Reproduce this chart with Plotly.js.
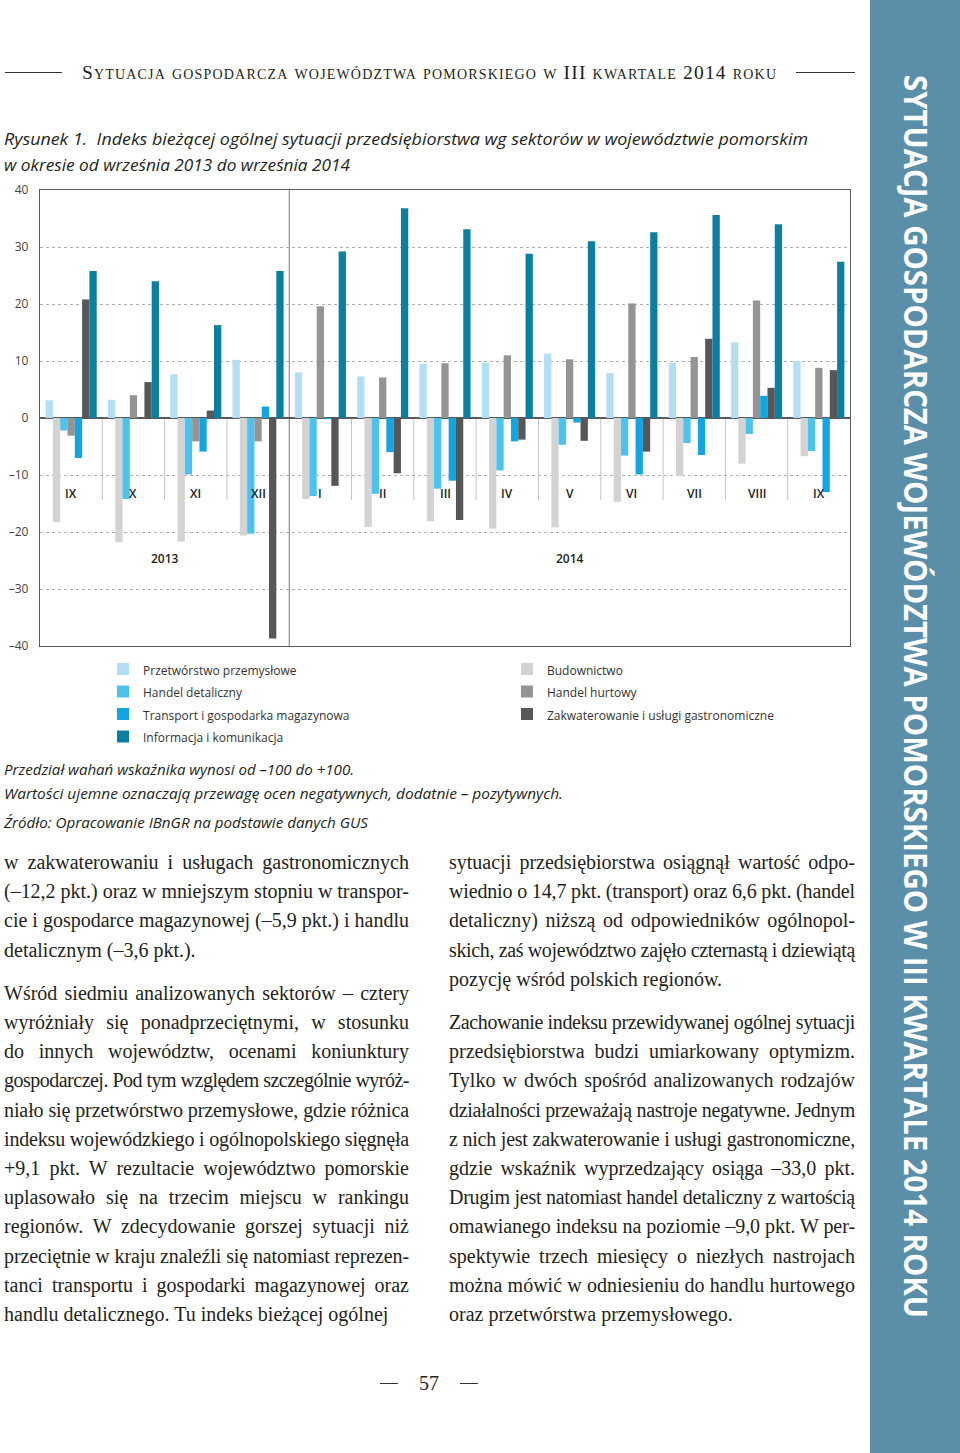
<!DOCTYPE html>
<html>
<head>
<meta charset="utf-8">
<script src="https://cdn.plot.ly/plotly-3.0.1.min.js"></script>
<style>
  html, body { margin:0; padding:0; background:#fff; }
  #page { position:relative; width:960px; height:1453px; background:#fff; overflow:hidden; }
  #chart { position:absolute; left:0; top:0; width:870px; height:800px; }
  .abs { position:absolute; white-space:nowrap; }
  .serif { font-family:"Liberation Serif", serif; color:#231f20; }
  .sans { font-family:"Open Sans", sans-serif; color:#231f20; }
  .body { font-size:20px; line-height:29.2px; }
  .hline { position:absolute; height:0; border-top:1px solid #333; }
</style>
</head>
<body>
<div id="page">
  <div id="chart"></div>
  <div style="position:absolute;left:870px;top:0;width:90px;height:1453px;background:#5b8fa9"></div>
  <span id="side" class="abs" style="font-family:'Open Sans',sans-serif;font-weight:700;font-size:33px;line-height:33px;color:#fff;transform-origin:0 0;left:933px;top:75px;">SYTUACJA GOSPODARCZA WOJEWÓDZTWA POMORSKIEGO W III KWARTALE 2014 ROKU</span>

  <div class="hline" style="left:5px;width:57px;top:72px"></div>
  <div class="hline" style="left:796px;width:59px;top:72px"></div>
  <span id="hdr" class="abs serif" data-w="694" style="left:82px;top:62.7px;font-size:19.5px;line-height:19.5px;font-variant:small-caps;">Sytuacja gospodarcza województwa pomorskiego w III kwartale 2014 roku</span>

  <span class="abs sans fitx" data-w="804" style="left:4px;top:128px;font-size:17px;line-height:22px;font-style:italic;font-weight:500;">Rysunek 1.&nbsp; Indeks bieżącej ogólnej sytuacji przedsiębiorstwa wg sektorów w województwie pomorskim</span>
  <span class="abs sans fitx" data-w="346" style="left:4px;top:154px;font-size:17px;line-height:22px;font-style:italic;font-weight:500;">w okresie od września 2013 do września 2014</span>

  <span class="abs sans fitx" data-w="350" style="left:4px;top:759px;font-size:15px;line-height:20px;font-style:italic;">Przedział wahań wskaźnika wynosi od –100 do +100.</span>
  <span class="abs sans fitx" data-w="559" style="left:4px;top:783px;font-size:15px;line-height:20px;font-style:italic;">Wartości ujemne oznaczają przewagę ocen negatywnych, dodatnie – pozytywnych.</span>
  <span class="abs sans fitx" data-w="364" style="left:4px;top:812px;font-size:15px;line-height:20px;font-style:italic;">Źródło: Opracowanie IBnGR na podstawie danych GUS</span>

  <div class="hline" style="left:380px;width:18px;top:1383px"></div>
  <div class="hline" style="left:460px;width:18px;top:1383px"></div>
  <span class="abs serif" style="left:419px;top:1369px;font-size:20px;line-height:29px;">57</span>
</div>

<script>
// ---------------- DATA ----------------
const months = ['IX','X','XI','XII','I','II','III','IV','V','VI','VII','VIII','IX'];
const years = ['2013','2014'];
const yearFirstMonth = [0, 4];   // index of first month of each year

const seriesNames = [
  'Przetwórstwo przemysłowe',
  'Budownictwo',
  'Handel detaliczny',
  'Handel hurtowy',
  'Transport i gospodarka magazynowa',
  'Zakwaterowanie i usługi gastronomiczne',
  'Informacja i komunikacja'
];
const przetworstwo   = [3.1, 3.2, 7.7, 10.2, 8.0, 7.3, 9.5, 9.7, 11.3, 7.9, 9.7, 13.3, 10.0];
const budownictwo    = [-18.3, -21.8, -21.7, -20.6, -14.2, -19.1, -18.1, -19.4, -19.2, -14.7, -10.2, -8.0, -6.7];
const handelDet      = [-2.2, -14.2, -9.9, -20.3, -13.7, -13.3, -12.4, -9.2, -4.7, -6.6, -4.4, -2.8, -5.8];
const handelHurt     = [-3.1, 4.0, -4.1, -4.1, 19.6, 7.1, 9.6, 11.0, 10.3, 20.1, 10.7, 20.6, 8.8];
const transport      = [-7.0, 0.0, -5.9, 2.0, -0.2, -6.0, -11.0, -4.1, -0.8, -9.9, -6.5, 3.9, -13.0];
const zakwaterowanie = [20.8, 6.3, 1.3, -38.7, -11.9, -9.7, -17.9, -3.8, -4.0, -5.9, 13.9, 5.3, 8.4];
const informacja     = [25.8, 24.0, 16.3, 25.8, 29.2, 36.8, 33.1, 28.8, 31.0, 32.6, 35.6, 34.0, 27.4];
const seriesValues = [przetworstwo, budownictwo, handelDet, handelHurt, transport, zakwaterowanie, informacja];
// which legend column each series sits in (left / right)
const legendColumn = ['legend', 'legend2', 'legend', 'legend2', 'legend', 'legend2', 'legend'];

const yTickVals = [40, 30, 20, 10, 0, -10, -20, -30, -40];
const yTickText = ['40', '30', '20', '10', '0', '–10', '–20', '–30', '–40'];

// ---------------- STYLE ----------------
const seriesColors = ['#b2dff5', '#d3d3d3', '#4cc3ef', '#949494', '#12a5e4', '#555759', '#0a7fa2'];
const FONT = 'Open Sans, sans-serif';
const monthLabelY = -13.2;
const yearLabelY = -24.7;
const sepBottom = -14.4;

const idx = months.map((_, i) => i);
const traces = seriesValues.map((vals, k) => ({
  type: 'bar',
  x: idx,
  y: vals,
  name: '<span style="font-size:12px">' + seriesNames[k] + '</span>',
  legend: legendColumn[k],
  marker: { color: seriesColors[k], line: { width: 0 } },
  hoverinfo: 'skip'
}));

const annotations = [];
months.forEach((m, i) => annotations.push({
  x: i, y: monthLabelY, xref: 'x', yref: 'y', text: m, showarrow: false,
  font: { family: FONT, size: 12, color: '#222', weight: 600 }, xanchor: 'center', yanchor: 'middle'
}));
years.forEach((yr, k) => {
  const a = yearFirstMonth[k];
  const b = (k + 1 < yearFirstMonth.length ? yearFirstMonth[k + 1] : months.length) - 1;
  annotations.push({
    x: (a + b) / 2, y: yearLabelY, xref: 'x', yref: 'y', text: yr, showarrow: false,
    font: { family: FONT, size: 12, color: '#222', weight: 600 }, xanchor: 'center', yanchor: 'middle'
  });
});

const shapes = [];
for (let i = 0; i < months.length - 1; i++) {
  const full = yearFirstMonth.includes(i + 1);
  shapes.push({
    type: 'line', xref: 'x', yref: 'y', layer: 'below',
    x0: i + 0.5, x1: i + 0.5,
    y0: full ? yTickVals[yTickVals.length - 1] : 0,
    y1: full ? yTickVals[0] : sepBottom,
    line: { color: full ? '#7a7a7a' : '#c4c4c4', width: 1 }
  });
}

const legendBase = {
  orientation: 'v', xanchor: 'left', y: -0.0149, yanchor: 'top', traceorder: 'normal',
  font: { family: FONT, size: 15, color: '#333' }, bgcolor: 'rgba(0,0,0,0)', borderwidth: 0
};

const layout = {
  width: 870, height: 800, autosize: false,
  margin: { l: 40, r: 20, t: 190, b: 154, pad: 0 },
  paper_bgcolor: 'rgba(0,0,0,0)', plot_bgcolor: '#fff',
  barmode: 'group', bargap: 0.18, bargroupgap: 0,
  showlegend: true,
  legend: Object.assign({}, legendBase, { x: 0.0778 }),
  legend2: Object.assign({}, legendBase, { x: 0.5765 }),
  xaxis: {
    range: [-0.5, months.length - 0.5], showticklabels: false, showgrid: false,
    zeroline: false, showline: true, mirror: true, linecolor: '#5a5a5a', linewidth: 1.2, ticks: ''
  },
  yaxis: {
    range: [-40, 40], tickmode: 'array', tickvals: yTickVals, ticktext: yTickText,
    showgrid: true, gridcolor: '#b0b0b0', griddash: 'dot', gridwidth: 1,
    zeroline: true, zerolinecolor: '#5a5a5a', zerolinewidth: 1.2,
    showline: true, mirror: true, linecolor: '#5a5a5a', linewidth: 1.2, ticks: '',
    ticklabelstandoff: 8,
    tickfont: { family: FONT, size: 12, color: '#444' }
  },
  annotations: annotations,
  shapes: shapes
};

Plotly.newPlot('chart', traces, layout, { staticPlot: true, displayModeBar: false });

// ---------------- PAGE TEXT ----------------
const leftParas = [
  ['w zakwaterowaniu i usługach gastronomicznych',
   '(–12,2 pkt.) oraz w mniejszym stopniu w transpor-',
   'cie i gospodarce magazynowej (–5,9 pkt.) i handlu',
   'detalicznym (–3,6 pkt.).'],
  ['Wśród siedmiu analizowanych sektorów – cztery',
   'wyróżniały się ponadprzeciętnymi, w stosunku',
   'do innych województw, ocenami koniunktury',
   'gospodarczej. Pod tym względem szczególnie wyróż-',
   'niało się przetwórstwo przemysłowe, gdzie różnica',
   'indeksu wojewódzkiego i ogólnopolskiego sięgnęła',
   '+9,1 pkt. W rezultacie województwo pomorskie',
   'uplasowało się na trzecim miejscu w rankingu',
   'regionów. W zdecydowanie gorszej sytuacji niż',
   'przeciętnie w kraju znaleźli się natomiast reprezen-',
   'tanci transportu i gospodarki magazynowej oraz',
   'handlu detalicznego. Tu indeks bieżącej ogólnej']
];
const rightParas = [
  ['sytuacji przedsiębiorstwa osiągnął wartość odpo-',
   'wiednio o 14,7 pkt. (transport) oraz 6,6 pkt. (handel',
   'detaliczny) niższą od odpowiedników ogólnopol-',
   'skich, zaś województwo zajęło czternastą i dziewiątą',
   'pozycję wśród polskich regionów.'],
  ['Zachowanie indeksu przewidywanej ogólnej sytuacji',
   'przedsiębiorstwa budzi umiarkowany optymizm.',
   'Tylko w dwóch spośród analizowanych rodzajów',
   'działalności przeważają nastroje negatywne. Jednym',
   'z nich jest zakwaterowanie i usługi gastronomiczne,',
   'gdzie wskaźnik wyprzedzający osiąga –33,0 pkt.',
   'Drugim jest natomiast handel detaliczny z wartością',
   'omawianego indeksu na poziomie –9,0 pkt. W per-',
   'spektywie trzech miesięcy o niezłych nastrojach',
   'można mówić w odniesieniu do handlu hurtowego',
   'oraz przetwórstwa przemysłowego.']
];

function buildColumn(paras, left, width, firstY) {
  const page = document.getElementById('page');
  let y = firstY;
  paras.forEach((lines, p) => {
    if (p > 0) y += 14;
    lines.forEach((t, i) => {
      const s = document.createElement('span');
      s.className = 'abs serif body';
      s.style.left = left + 'px';
      s.style.top = (y - 14) + 'px';
      s.textContent = t;
      if (i < lines.length - 1) s.dataset.just = width;
      page.appendChild(s);
      y += 29.2;
    });
  });
}
buildColumn(leftParas, 4, 405, 862);
buildColumn(rightParas, 449, 406, 862);

function layoutText() {
  document.querySelectorAll('[data-just]').forEach(el => {
    const target = +el.dataset.just;
    el.style.wordSpacing = '0px';
    el.style.letterSpacing = '0px';
    const w = el.getBoundingClientRect().width;
    const n = (el.textContent.match(/ /g) || []).length;
    if (w <= target) {
      if (n > 0) el.style.wordSpacing = ((target - w) / n) + 'px';
    } else {
      el.style.letterSpacing = ((target - w) / el.textContent.length) + 'px';
      const w2 = el.getBoundingClientRect().width;
      if (n > 0) el.style.wordSpacing = ((target - w2) / n) + 'px';
    }
  });
  document.querySelectorAll('.fitx').forEach(el => {
    const w = el.getBoundingClientRect().width;
    el.style.transformOrigin = '0 50%';
    el.style.transform = 'scaleX(' + (+el.dataset.w / w) + ')';
  });
  const hdr = document.getElementById('hdr');
  const hw = hdr.getBoundingClientRect().width;
  const nch = hdr.textContent.length;
  hdr.style.letterSpacing = ((+hdr.dataset.w - hw) / (nch - 1)) + 'px';
  const side = document.getElementById('side');
  const sw = side.getBoundingClientRect().width;
  side.style.transform = 'rotate(90deg) scaleX(' + (1243 / sw) + ')';
}
if (document.fonts && document.fonts.ready) { document.fonts.ready.then(layoutText); } else { layoutText(); }
</script>
</body>
</html>
